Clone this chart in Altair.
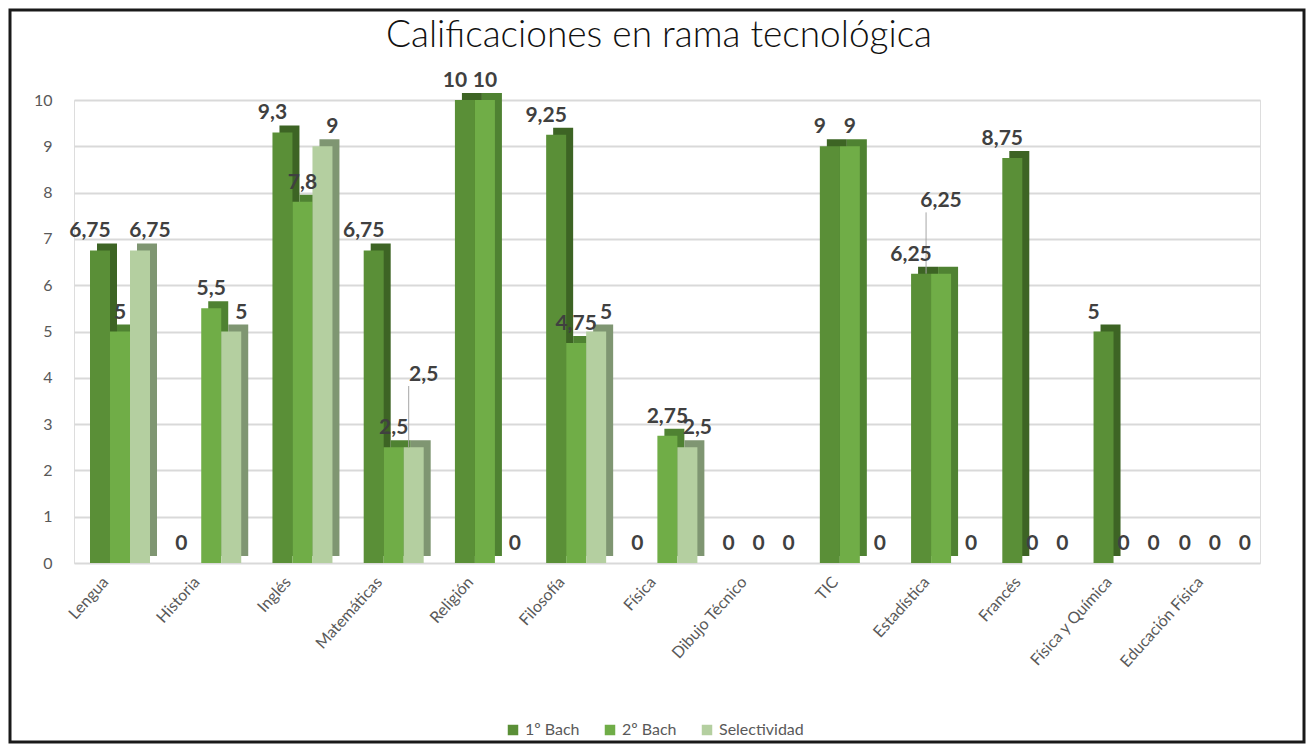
import altair as alt
import pandas as pd

categories = ["Lengua", "Historia", "Inglés", "Matemáticas", "Religión", "Filosofía",
              "Física", "Dibujo Técnico", "TIC", "Estadística", "Francés",
              "Física y Química", "Educación Física"]
series = ["1º Bach", "2º Bach", "Selectividad"]
bach1 = [6.75, 0, 9.3, 6.75, 10, 9.25, 0, 0, 9, 6.25, 8.75, 5, 0]
bach2 = [5, 5.5, 7.8, 2.5, 10, 4.75, 2.75, 0, 9, 6.25, 0, 0, 0]
selec = [6.75, 5, 9, 2.5, 0, 5, 2.5, 0, 0, 0, 0, 0, 0]
y_ticks = [0, 1, 2, 3, 4, 5, 6, 7, 8, 9, 10]
title_text = "Calificaciones en rama tecnológica"

front_colors = ["#5a8f37", "#70ad47", "#b4cfa0"]
side_colors = ["#3d6424", "#4f8232", "#7f9672"]

W, H = 1186, 463
FONT = "Lato"
BAR_STEP = 20          # px between bar centres inside a cluster


def label_width(s):
    return sum(5.5 if ch == "," else 12 for ch in s)


rows = []
for ci, c in enumerate(categories):
    placed = []
    for si, (vals, s) in enumerate(zip([bach1, bach2, selec], series)):
        v = vals[ci]
        txt = f"{v:g}".replace(".", ",")
        w = label_width(txt)
        lift = 0.0
        # lift a label that would sit on top of an equal-valued neighbour's label
        for (sj, vj, wj) in placed:
            overlap_x = (w + wj) / 2 - (si - sj) * BAR_STEP
            if overlap_x > 5 and abs(v - vj) < 0.05 and v > 0:
                lift = 1.15
        placed.append((si, v, w))
        rows.append({"Asignatura": c, "Serie": s, "Nota": v, "Etiqueta": txt,
                     "Pos": v + lift, "Lifted": lift > 0})
df = pd.DataFrame(rows)

x = alt.X("Asignatura:N", sort=categories, title=None,
          scale=alt.Scale(paddingInner=0, paddingOuter=0),
          axis=alt.Axis(labelAngle=-48, labelFontSize=16, labelColor="#595959",
                        labelFont=FONT, ticks=False, domain=False, labelPadding=16,
                        labelOffset=-14, grid=False))
y_scale = alt.Scale(domain=[0, 10])
y = alt.Y("Nota:Q", title=None, scale=y_scale,
          axis=alt.Axis(values=y_ticks, labelFontSize=16, labelColor="#595959",
                        labelFont=FONT, ticks=False, domain=False, labelPadding=22,
                        grid=True, gridColor="#d9d9d9", gridWidth=2))

off_front = alt.XOffset("Serie:N", sort=series,
                        scale=alt.Scale(range=[16, 76], paddingInner=0, paddingOuter=0))
off_side = alt.XOffset("Serie:N", sort=series,
                       scale=alt.Scale(range=[23, 83], paddingInner=0, paddingOuter=0))

side = alt.Chart(df).mark_bar(yOffset=-7).encode(
    x=x, y=y, xOffset=off_side,
    color=alt.Color("Serie:N", sort=series,
                    scale=alt.Scale(domain=series, range=side_colors), legend=None),
)

front = alt.Chart(df).mark_bar().encode(
    x=x, y=y, xOffset=off_front,
    color=alt.Color("Serie:N", sort=series, title=None,
                    scale=alt.Scale(domain=series, range=front_colors),
                    legend=alt.Legend(orient="none", direction="horizontal",
                                      legendX=431, legendY=622,
                                      symbolType="square", symbolSize=110,
                                      symbolStrokeWidth=0,
                                      labelFontSize=16, labelColor="#595959",
                                      labelFont=FONT, columnPadding=22)),
)

leaders = alt.Chart(df).transform_filter("datum.Lifted").mark_rule(
    color="#a6a6a6", strokeWidth=1, y2Offset=-8
).encode(
    x=x, xOffset=off_front, y=y, y2="Pos:Q"
)

labels = alt.Chart(df).mark_text(
    baseline="bottom", dy=-9, fontSize=21, fontWeight="bold",
    color="#404040", font=FONT
).encode(
    x=x, y=alt.Y("Pos:Q", scale=y_scale), xOffset=off_front, text="Etiqueta:N"
)

title = alt.Chart(pd.DataFrame({"t": [title_text]})).mark_text(
    fontSize=37, font=FONT, fontWeight=300, color="#111111",
    baseline="middle", align="center"
).encode(
    text="t:N", x=alt.value(W / 2 - 8), y=alt.value(-64)
)

frame = alt.Chart(pd.DataFrame({"t": [0]})).mark_rect(
    fill=None, stroke="#1a1a1a", strokeWidth=3
).encode(
    x=alt.value(-64), x2=alt.value(W + 44), y=alt.value(-90), y2=alt.value(H + 179)
)

chart = alt.layer(side, front, leaders, labels, title, frame).resolve_scale(
    xOffset="independent", color="independent"
).properties(
    width=W, height=H,
    autosize=alt.AutoSizeParams(type="none"),
    padding={"left": 66, "top": 92, "right": 46, "bottom": 181},
).configure_view(stroke=None).configure(background="white")

chart.save("out.html", embed_options={"renderer": "svg", "actions": False})
